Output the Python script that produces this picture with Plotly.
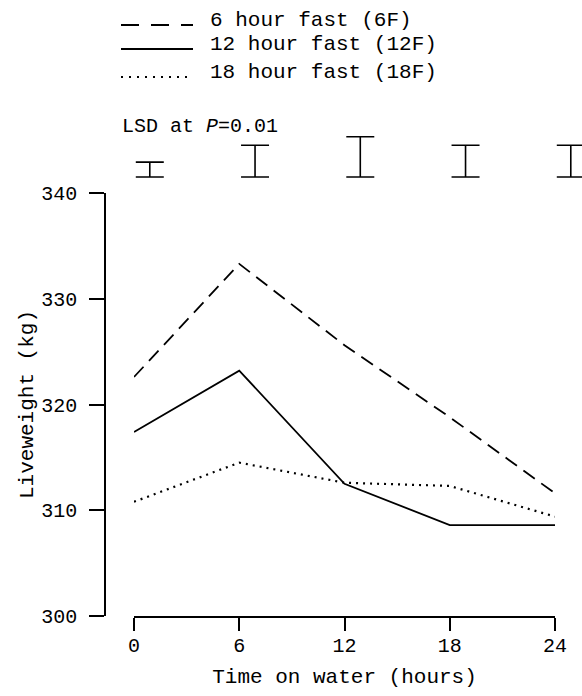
import plotly.graph_objects as go

# ---- data ----
hours = [0, 6, 12, 18, 24]
fast_6f = [322.6, 333.3, 325.6, 318.8, 311.6]
fast_12f = [317.4, 323.2, 312.5, 308.6, 308.6]
fast_18f = [310.8, 314.5, 312.6, 312.3, 309.4]
lsd_values = [1.4, 3.0, 3.8, 3.0, 3.0]
series_names = ["6 hour fast (6F)", "12 hour fast (12F)", "18 hour fast (18F)"]
y_ticks = [300, 310, 320, 330, 340]

FONT = "Liberation Mono"
W, H = 582, 696
L, R, T, B = 105, 0, 130, 80
PW, PH = W - L - R, H - T - B


def px(x):
    return (x - L) / PW


def py(y):
    return (H - B - y) / PH


fig = go.Figure()

styles = [dict(dash="14px,8px", width=1.8), dict(dash="solid", width=1.8), dict(dash="2px,5px", width=2.2)]
for name, vals, st in zip(series_names, [fast_6f, fast_12f, fast_18f], styles):
    fig.add_trace(go.Scatter(x=hours, y=vals, mode="lines", name=name,
                             line=dict(color="black", width=st["width"], dash=st["dash"]),
                             showlegend=False, xaxis="x", yaxis="y"))

# LSD bars on a separate top strip
fig.add_trace(go.Scatter(
    x=hours, y=[v / 2 for v in lsd_values], mode="markers",
    marker=dict(size=1, color="rgba(0,0,0,0)"),
    error_y=dict(type="data", array=[v / 2 for v in lsd_values], symmetric=True,
                 width=14, thickness=1.6, color="black"),
    showlegend=False, xaxis="x2", yaxis="y2"))

x0, x1 = 134, 555
y_top, y_bot = 193, 616
scale_y = (y_bot - y_top) / 40.0  # px per kg
scale_x = (x1 - x0) / 24.0
x2_start = -0.9
x2_end = x2_start + (W - R - x0) / scale_x
y2_bottom_px = 178
y2_lo = -0.1
y2_hi = y2_lo + (y2_bottom_px - T) / scale_y

fig.update_layout(
    width=W, height=H,
    margin=dict(l=L, r=R, t=T, b=B, autoexpand=False),
    paper_bgcolor="white", plot_bgcolor="white",
    font=dict(family=FONT, size=20, color="black"),
    xaxis=dict(domain=[px(x0), px(x1)], range=[0, 24], tickvals=hours,
               ticks="outside", ticklen=13, tickwidth=1.5, tickcolor="black",
               showline=True, linecolor="black", linewidth=1.5,
               showgrid=False, zeroline=False, anchor="y", automargin=False,
               ticklabelstandoff=-3,
               title=dict(text="Time on water (hours)", font=dict(size=21), standoff=12)),
    yaxis=dict(domain=[0, py(y_top)], range=[300, 340], tickvals=y_ticks,
               ticks="outside", ticklen=15, tickwidth=1.5, tickcolor="black",
               showline=True, linecolor="black", linewidth=1.5,
               showgrid=False, zeroline=False, anchor="free", position=0,
               automargin=False, ticklabelstandoff=8,
               title=dict(text="Liveweight (kg)", font=dict(size=21), standoff=1)),
    xaxis2=dict(domain=[px(x0), 1], range=[x2_start, x2_end], visible=False,
                anchor="y2", automargin=False),
    yaxis2=dict(domain=[py(y2_bottom_px), 1], range=[y2_lo, y2_hi], visible=False,
                anchor="x2", automargin=False),
)

# manual legend
legend_rows = [
    (25, 20, "18px,12px", 1.8),
    (49, 45, "solid", 1.8),
    (77, 73, "2px,6px", 2.2),
]
for (ly, ty, dash, w), name in zip(legend_rows, series_names):
    fig.add_shape(type="line", xref="paper", yref="paper",
                  x0=px(121), x1=px(193), y0=py(ly), y1=py(ly),
                  line=dict(color="black", width=w, dash=dash))
    fig.add_annotation(xref="paper", yref="paper", x=px(208), y=py(ty),
                       text=name, showarrow=False, xanchor="left", yanchor="middle",
                       font=dict(family=FONT, size=21, color="black"))

fig.add_annotation(xref="paper", yref="paper", x=px(120), y=py(126),
                   text="LSD at <i>P</i>=0.01", showarrow=False,
                   xanchor="left", yanchor="middle",
                   font=dict(family=FONT, size=20, color="black"))

fig.write_html("out.html", config={"displayModeBar": False},
               post_script="document.body.style.margin='0';")
